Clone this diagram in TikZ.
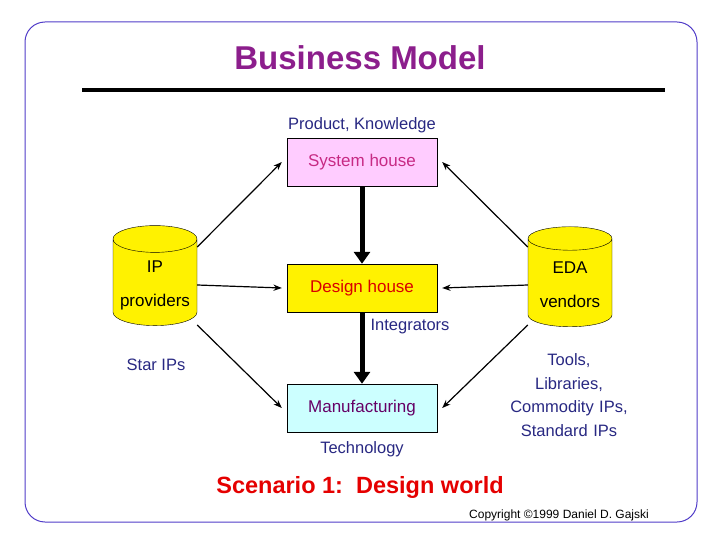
\documentclass[tikz,border=0pt]{standalone}
\usepackage{fontspec}
\setmainfont{Liberation Sans}
\usetikzlibrary{shapes.geometric,positioning,calc,arrows.meta}
\definecolor{navy}{RGB}{40,40,130}
\definecolor{titlepurple}{RGB}{140,30,140}
\definecolor{framecol}{RGB}{80,60,200}
\definecolor{pinkfill}{RGB}{255,204,255}
\definecolor{cyanfill}{RGB}{204,255,255}
\tikzset{
  house/.style={draw, minimum width=150pt, minimum height=48pt, font=\fontsize{17}{20}\selectfont},
  store/.style={draw, cylinder, shape border rotate=90, aspect=0.35, fill=yellow,
    minimum width=84pt, minimum height=100pt, align=center, font=\fontsize{17}{34}\selectfont},
  lbl/.style={text=navy, font=\fontsize{16.5}{23.5}\selectfont, align=center},
  flow/.style={-Stealth, line width=1.2pt},
  main/.style={-{Triangle[length=12pt,width=16pt]}, line width=5pt},
}
\begin{document}
\begin{tikzpicture}[x=1pt,y=-1pt]
\useasboundingbox (0,0) rectangle (720,540);
\draw[framecol, line width=1pt, rounded corners=20pt] (25,22) rectangle (697,522);

\node[text=titlepurple, font=\fontsize{33}{36}\selectfont\bfseries] (title) at (360,58) {Business Model};
\draw[line width=4pt] (82,90) -- (665,90);

\node[house, fill=pinkfill, text=magenta!80!black] (sys) at (362,162) {System house};
\node[house, fill=yellow, text=red!85!black] (dh) at (362,288) {Design house};
\node[house, fill=cyanfill, text=violet!80!black] (mf) at (362,408) {Manufacturing};

\node[store] (ip) at (155,285) {\raisebox{-8pt}{IP}\\\raisebox{-8pt}{providers}};
\node[store] (eda) at (570,285) {\raisebox{-8pt}{EDA}\\\raisebox{-8pt}{vendors}};

\node[lbl] (pk) at (362,125) {Product, Knowledge};
\node[lbl] (integ) at (410,327) {Integrators};
\node[lbl] (star) at (156,365) {Star IPs};
\node[lbl] (tech) at (362,449) {Technology};
\node[lbl, text width=150pt] (tools) at (569,395) {Tools,\\Libraries,\\Commodity IPs,\\Standard IPs};

\coordinate (ipa) at ([yshift=38pt]ip.east);
\coordinate (ipc) at ([yshift=-40pt]ip.east);
\coordinate (edaa) at ([yshift=38pt]eda.west);
\coordinate (edac) at ([yshift=-40pt]eda.west);

\draw[flow] (ipa) -- ([xshift=-5pt]sys.west);
\draw[flow] (ip.east) -- ([xshift=-5pt]dh.west);
\draw[flow] (ipc) -- ([xshift=-5pt]mf.west);
\draw[flow] (edaa) -- ([xshift=5pt]sys.east);
\draw[flow] (eda.west) -- ([xshift=5pt]dh.east);
\draw[flow] (edac) -- ([xshift=5pt]mf.east);

\draw[main] (sys.south) -- (dh.north);
\draw[main] (dh.south) -- (mf.north);

\node[text=red!90!black, font=\fontsize{23.5}{26}\selectfont\bfseries] (scen) at (360,487) {Scenario 1:\ \ Design world};
\node[font=\fontsize{12}{14}\selectfont] (copy) at (559,515) {Copyright \copyright 1999 Daniel D. Gajski};
\end{tikzpicture}
\end{document}
